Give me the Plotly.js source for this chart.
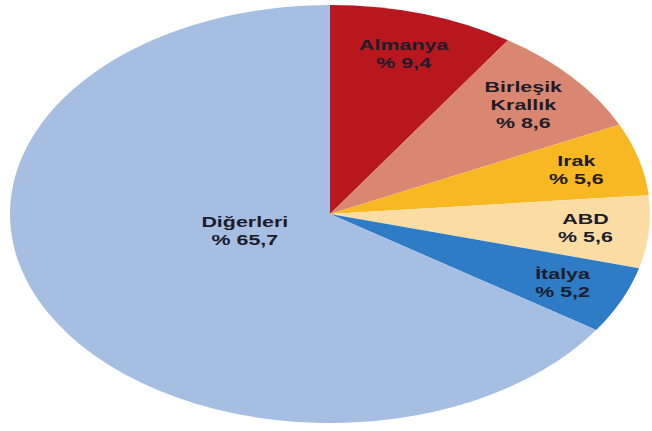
<!DOCTYPE html>
<html>
<head>
<meta charset="utf-8">
<script src="https://cdn.plot.ly/plotly-3.0.1.min.js"></script>
<style>
html, body { margin: 0; padding: 0; background: #ffffff; overflow: hidden; }
#wrap { position: absolute; left: 10px; top: 5px; width: 418px; height: 418px; transform-origin: 0 0; transform: scaleX(1.531); }
#plot { width: 418px; height: 418px; }
</style>
</head>
<body>
<div id="wrap"><div id="plot"></div></div>
<script>
const labels = ['Almanya', 'Birleşik<br>Krallık', 'Irak', 'ABD', 'İtalya', 'Diğerleri'];
const values = [9.4, 8.6, 5.6, 5.6, 5.2, 65.7];
const valueText = ['% 9,4', '% 8,6', '% 5,6', '% 5,6', '% 5,2', '% 65,7'];
const colors = ['#B8181D', '#D98770', '#F8B823', '#FBDDA4', '#2E7BC6', '#A5BEE2'];

const trace = {
  type: 'pie',
  labels: labels,
  values: values,
  sort: false,
  direction: 'clockwise',
  rotation: 0,
  marker: { colors: colors, line: { width: 0 } },
  textinfo: 'none',
  hoverinfo: 'none',
  showlegend: false
};

// Label placement: at each slice's mid-angle (computed from the values),
// small slices near the rim, the large slice nearer the centre (best-fit style).
const total = values.reduce((a, b) => a + b, 0);
let cum = 0;
const annotations = values.map((v, i) => {
  const mid = (cum + v / 2) / total * 2 * Math.PI;
  cum += v;
  const frac = v > 50 ? 0.3 : 0.8;
  return {
    xref: 'paper', yref: 'paper',
    x: 0.5 + 0.5 * frac * Math.sin(mid),
    y: 0.5 + 0.5 * frac * Math.cos(mid) + (v > 50 ? 0.03 : 0),
    xanchor: 'center', yanchor: 'middle',
    text: labels[i] + '<br>' + valueText[i],
    showarrow: false,
    align: 'center',
    font: { family: 'Liberation Sans, Arial, sans-serif', size: 14, color: '#1c1c2c', weight: 'bold' }
  };
});

Plotly.newPlot('plot', [trace], {
  width: 418, height: 418,
  margin: { l: 0, r: 0, t: 0, b: 0 },
  paper_bgcolor: 'rgba(0,0,0,0)',
  showlegend: false,
  annotations: annotations
}, { staticPlot: true });
</script>
</body>
</html>
